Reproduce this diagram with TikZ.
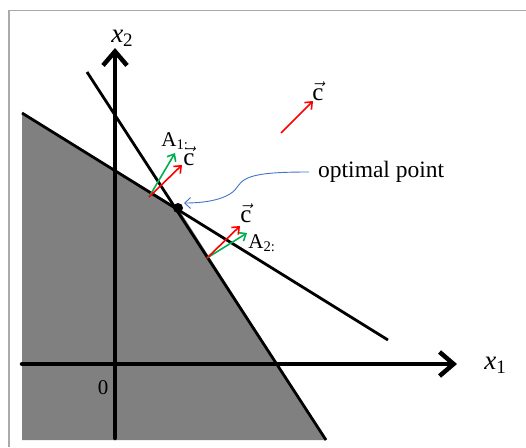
\documentclass[tikz,border=0pt]{standalone}
\usepackage{fontspec}
\setmainfont{Liberation Serif}
\usetikzlibrary{arrows.meta}
\definecolor{regiongray}{RGB}{128,128,128}
\definecolor{framegray}{RGB}{170,170,170}
\definecolor{curveblue}{RGB}{68,114,196}
\definecolor{vecgreen}{RGB}{0,176,80}
\begin{document}
\begin{tikzpicture}[x=1pt,y=-1pt,
  axisline/.style={line width=4.5pt,-{Straight Barb[length=14pt,width=24pt,line width=4.5pt]},line cap=round},
  constraint/.style={line width=2.8pt},
  vecred/.style={red,line width=1.6pt,-{Straight Barb[length=6pt,width=10pt]}},
  vecgrn/.style={vecgreen,line width=1.6pt,-{Straight Barb[length=6pt,width=10pt]}},
  lbl/.style={inner sep=0pt,font=\fontsize{25}{27}\selectfont},
  xlbl/.style={inner sep=0pt,font=\fontsize{27}{29}\selectfont},
  albl/.style={inner sep=0pt,font=\fontsize{21}{23}\selectfont}]
\useasboundingbox (0,0) rectangle (526,447);
% frame
\draw[framegray,line width=1.4pt] (9,447) -- (9,10.5) -- (526,10.5);
% feasible region
\coordinate (tl) at (22,113);
\coordinate (opt) at (178,208);
\coordinate (br) at (326,440);
\coordinate (bl) at (22,440);
\fill[regiongray] (tl) -- (opt) -- (br) -- (bl) -- cycle;
% constraint lines
\coordinate (l1end) at (388,340);
\coordinate (l2start) at (87,72);
\draw[constraint] (tl) -- (l1end);
\draw[constraint] (l2start) -- (br);
% axes
\coordinate (xs) at (22,364);
\coordinate (xe) at (457,364);
\coordinate (ys) at (115,438);
\coordinate (ye) at (115,48);
\draw[axisline] (xs) -- (xe);
\draw[axisline] (ys) -- (ye);
\node[xlbl] (x2) at (122,38) {\textit{x}\raisebox{-0.35ex}{\fontsize{19}{21}\selectfont 2}};
\node[xlbl] (x1) at (495,365) {\textit{x}\raisebox{-0.35ex}{\fontsize{19}{21}\selectfont 1}};
\node[inner sep=0pt,font=\fontsize{21}{23}\selectfont] (zero) at (103,388) {0};
% optimal point
\fill (opt) circle (5pt);
\node[inner sep=0pt,font=\fontsize{23.5}{26}\selectfont,anchor=west] (optlbl) at (318,172) {optimal point};
\draw[curveblue,line width=0.9pt,-{Straight Barb[length=6pt,width=11pt]}] ([xshift=-9pt]optlbl.west) .. controls (262,172) and (245,175) .. (238,186) .. controls (231,198) and (210,203) .. (184,203);
% free c vector
\coordinate (c0s) at (281,133);
\coordinate (c0e) at (313,101);
\draw[vecred] (c0s) -- (c0e);
\node[lbl] (c0) at (318,91) {$\vec{\mathrm{c}}$};
% at A1
\coordinate (a1s) at (149,197);
\coordinate (a1r) at (182,165);
\coordinate (a1g) at (175,153);
\draw[vecgrn] (a1s) -- (a1g);
\draw[vecred] (a1s) -- (a1r);
\node[albl] (A1) at (175,141) {A\textsubscript{1:}};
\node[lbl] (c1) at (189,156) {$\vec{\mathrm{c}}$};
% at A2
\coordinate (a2s) at (207,258);
\coordinate (a2r) at (240,226);
\coordinate (a2g) at (247,233);
\draw[vecgrn] (a2s) -- (a2g);
\draw[vecred] (a2s) -- (a2r);
\node[lbl] (c2) at (246,213) {$\vec{\mathrm{c}}$};
\node[albl] (A2) at (262,243) {A\textsubscript{2:}};
\end{tikzpicture}
\end{document}
